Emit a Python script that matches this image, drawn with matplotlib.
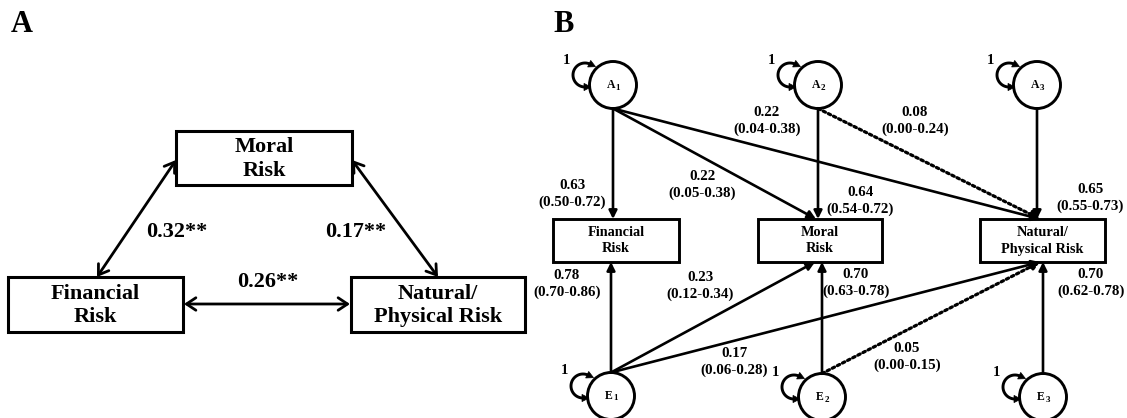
import numpy as np
import matplotlib
matplotlib.use("Agg")
import matplotlib.pyplot as plt
from matplotlib.patches import Rectangle, Circle, FancyArrowPatch, Polygon

plt.rcParams['font.family'] = ['Liberation Serif', 'DejaVu Serif']
plt.rcParams['font.weight'] = 'bold'

# ---- data ----
# panel A: correlations among the three risk domains
corr_from = ["Moral", "Moral", "Financial"]
corr_to = ["Financial", "Natural", "Natural"]
corr_text = ["0.32**", "0.17**", "0.26**"]

# panel B: standardized path estimates with 95% CI
path_src = ["A1", "A1", "A1", "A2", "A2", "A3", "E1", "E1", "E1", "E2", "E2", "E3"]
path_dst = ["Financial", "Moral", "Natural", "Moral", "Natural", "Natural",
            "Financial", "Moral", "Natural", "Moral", "Natural", "Natural"]
path_est = [0.63, 0.22, 0.22, 0.64, 0.08, 0.65, 0.78, 0.23, 0.17, 0.70, 0.05, 0.70]
path_lo = [0.50, 0.05, 0.04, 0.54, 0.00, 0.55, 0.70, 0.12, 0.06, 0.63, 0.00, 0.62]
path_hi = [0.72, 0.38, 0.38, 0.72, 0.24, 0.73, 0.86, 0.34, 0.28, 0.78, 0.15, 0.78]
variances = ["1", "1", "1", "1", "1", "1"]

box_names = {"Financial": "Financial\nRisk", "Moral": "Moral\nRisk",
             "Natural": "Natural/\nPhysical Risk"}

# ---- layout (pixel space) ----
boxA = {"Moral": (176, 131, 176, 54), "Financial": (8, 277, 175, 55),
        "Natural": (351, 277, 174, 55)}
corr_ends = {("Moral", "Financial"): ((176, 160), (97, 277)),
             ("Moral", "Natural"): ((352, 160), (438, 277)),
             ("Financial", "Natural"): ((184, 304), (350, 304))}
corr_lbl = [(177, 232), (356, 232), (268, 282)]

boxB = {"Financial": (553, 219, 126, 43), "Moral": (758, 219, 124, 43),
        "Natural": (980, 219, 125, 43)}
top_port = {"Financial": 613, "Moral": 816, "Natural": 1040}
bot_port = {"Financial": 611, "Moral": 815, "Natural": 1040}
nodes = {"A1": (613, 85), "A2": (818, 85), "A3": (1037, 85),
         "E1": (611, 396), "E2": (822, 397), "E3": (1043, 397)}
R = 23.5
path_lbl = [(572, 194), (702, 185), (767, 121), (860, 201), (915, 121), (1090, 198),
            (567, 284), (700, 286), (734, 362), (856, 283), (907, 357), (1091, 283)]

fig = plt.figure(figsize=(11.27, 4.18), dpi=100)
ax = fig.add_axes([0, 0, 1, 1])
ax.set_xlim(0, 1127)
ax.set_ylim(418, 0)
ax.axis('off')

ax.text(22, 25, "A", fontsize=22, ha='center', va='center', fontweight='bold')
ax.text(564, 25, "B", fontsize=22, ha='center', va='center', fontweight='bold')


def head(tip, direc, length=7, half=3.6):
    d = np.array(direc, float)
    d = d / np.hypot(*d)
    n = np.array([-d[1], d[0]])
    tip = np.array(tip, float)
    base = tip - length * d
    ax.add_patch(Polygon([tip, base + half * n, base - half * n], closed=True,
                         fc='black', ec='black', lw=0.5))


# ===== panel A =====
for k, (x, y, w, h) in boxA.items():
    ax.add_patch(Rectangle((x, y), w, h, fill=False, lw=2.2, ec='black'))
    ax.text(x + w / 2, y + h / 2 + 1, box_names[k], fontsize=16, ha='center',
            va='center', linespacing=1.22, fontweight='bold')

for a, b, t, (lx, ly) in zip(corr_from, corr_to, corr_text, corr_lbl):
    p0, p1 = corr_ends[(a, b)]
    ax.add_patch(FancyArrowPatch(p0, p1, arrowstyle='<->,head_length=0.45,head_width=0.3',
                                 mutation_scale=15, lw=2.0, color='black',
                                 shrinkA=0, shrinkB=0))
    ax.text(lx, ly, t, fontsize=16, ha='center', va='center', fontweight='bold')

# ===== panel B =====
for k, (x, y, w, h) in boxB.items():
    ax.add_patch(Rectangle((x, y), w, h, fill=False, lw=2.1, ec='black'))
    ax.text(x + w / 2, y + h / 2, box_names[k], fontsize=10.3, ha='center',
            va='center', linespacing=1.4, fontweight='bold')

for k, (cx, cy) in nodes.items():
    ax.add_patch(Circle((cx, cy), R, fill=False, lw=2.1, ec='black'))
    ax.text(cx - 2, cy, k[0], fontsize=8.5, ha='center', va='center', fontweight='bold')
    ax.text(cx + 4.5, cy + 2.5, k[1], fontsize=6.5, ha='center', va='center',
            fontweight='bold')

# self loops (variance fixed to 1)
for (k, (cx, cy)), v in zip(nodes.items(), variances):
    ox, oy, r = cx - 28, cy - 10, 12
    th = np.radians(np.linspace(65, 270, 60))
    xs = ox + r * np.cos(th)
    ys = oy - r * np.sin(th)
    ax.plot(xs, ys, color='black', lw=2.1, solid_capstyle='butt')
    t_top = np.array([np.sin(th[0]), np.cos(th[0])])
    head((xs[0] + 6 * t_top[0], ys[0] + 6 * t_top[1]), t_top)
    head((xs[-1] + 6, ys[-1]), (1, 0))
    ax.text(cx - 47, cy - 25, v, fontsize=10.5, ha='center', va='center', fontweight='bold')

for s, d, e, lo, hi, (lx, ly) in zip(path_src, path_dst, path_est, path_lo, path_hi, path_lbl):
    cx, cy = nodes[s]
    bx, by, bw, bh = boxB[d]
    if s.startswith("A"):
        p0 = (cx, cy + R)
        tx = cx if abs(cx - top_port[d]) < 10 else top_port[d]
        p1 = (tx, by)
    else:
        p0 = (cx, cy - R)
        tx = cx if abs(cx - bot_port[d]) < 10 else bot_port[d]
        p1 = (tx, by + bh)
    dotted = lo == 0
    ls = (0, (0.8, 1.0)) if dotted else '-'
    ax.add_patch(FancyArrowPatch(p0, p1, arrowstyle='-|>,head_length=0.4,head_width=0.2',
                                 mutation_scale=12, lw=2.3 if dotted else 1.9,
                                 color='black', linestyle=ls, shrinkA=0, shrinkB=0))
    ax.text(lx, ly, f"{e:.2f}\n({lo:.2f}-{hi:.2f})", fontsize=10.8, ha='center',
            va='center', linespacing=1.42, fontweight='bold')

fig.savefig("out.png", dpi=100)
